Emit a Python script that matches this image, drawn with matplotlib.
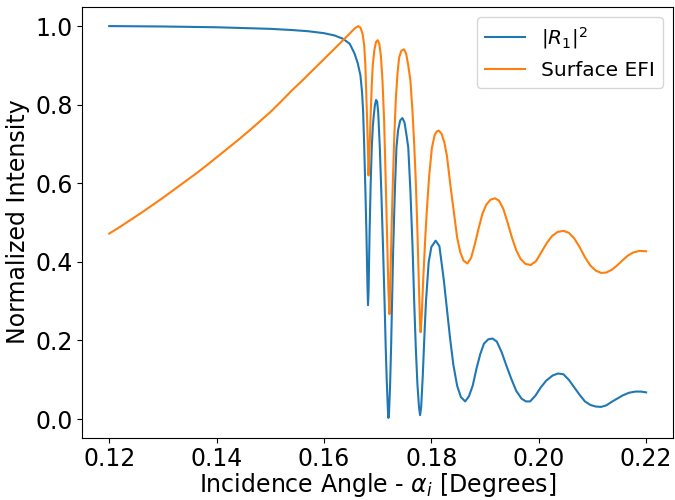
import numpy as np
import matplotlib
matplotlib.use("Agg")
import matplotlib.pyplot as plt

# values
angle_r = [0.1200, 0.1250, 0.1300, 0.1350, 0.1400, 0.1450, 0.1500, 0.1540, 0.1570,
           0.1600, 0.1620, 0.1635, 0.1648, 0.1657, 0.1663, 0.1668, 0.1671, 0.1673,
           0.1675, 0.1677, 0.1679, 0.1680, 0.1681, 0.1682, 0.1683, 0.1684, 0.1685,
           0.1687, 0.1689, 0.1691, 0.1693, 0.1695, 0.1697, 0.1699, 0.1701, 0.1704,
           0.1707, 0.1710, 0.1713, 0.1715, 0.1717, 0.1719, 0.1720, 0.1721, 0.1723,
           0.1725, 0.1727, 0.1729, 0.1732, 0.1735, 0.1738, 0.1742, 0.1746, 0.1750,
           0.1754, 0.1757, 0.1761, 0.1765, 0.1768, 0.1771, 0.1774, 0.1777, 0.1779,
           0.1781, 0.1784, 0.1787, 0.1790, 0.1795, 0.1800, 0.1808, 0.1815, 0.1823,
           0.1829, 0.1835, 0.1841, 0.1848, 0.1855, 0.1863, 0.1870, 0.1877, 0.1884,
           0.1891, 0.1898, 0.1906, 0.1914, 0.1922, 0.1931, 0.1940, 0.1949, 0.1958,
           0.1968, 0.1976, 0.1984, 0.1994, 0.2004, 0.2014, 0.2026, 0.2036, 0.2046,
           0.2056, 0.2066, 0.2076, 0.2086, 0.2096, 0.2106, 0.2116, 0.2126, 0.2136,
           0.2146, 0.2156, 0.2168, 0.2180, 0.2190, 0.2200]
refl = [1.000, 0.9995, 0.999, 0.998, 0.997, 0.995, 0.993, 0.990, 0.987,
        0.982, 0.976, 0.968, 0.955, 0.930, 0.905, 0.874, 0.830, 0.780,
        0.691, 0.590, 0.479, 0.410, 0.340, 0.290, 0.320, 0.400, 0.479,
        0.600, 0.691, 0.745, 0.776, 0.800, 0.812, 0.808, 0.780, 0.691,
        0.570, 0.437, 0.290, 0.182, 0.095, 0.025, 0.003, 0.010, 0.080,
        0.182, 0.310, 0.437, 0.580, 0.691, 0.735, 0.760, 0.766, 0.755,
        0.720, 0.691, 0.580, 0.437, 0.300, 0.182, 0.090, 0.030, 0.010,
        0.030, 0.110, 0.210, 0.300, 0.399, 0.438, 0.454, 0.440, 0.356,
        0.280, 0.204, 0.138, 0.085, 0.056, 0.045, 0.058, 0.085, 0.128,
        0.165, 0.192, 0.203, 0.205, 0.197, 0.170, 0.135, 0.102, 0.072,
        0.052, 0.045, 0.045, 0.060, 0.081, 0.098, 0.111, 0.116, 0.114,
        0.100, 0.081, 0.062, 0.045, 0.036, 0.032, 0.031, 0.035, 0.044,
        0.052, 0.060, 0.067, 0.070, 0.070, 0.068]

angle_e = [0.1200, 0.1220, 0.1240, 0.1260, 0.1280, 0.1300, 0.1320, 0.1340, 0.1360,
           0.1380, 0.1400, 0.1420, 0.1440, 0.1460, 0.1480, 0.1500, 0.1520, 0.1540,
           0.1560, 0.1580, 0.1600, 0.1620, 0.1640, 0.1650, 0.1658, 0.1664, 0.1668,
           0.1672, 0.1675, 0.1677, 0.1680, 0.1682, 0.1683, 0.1685, 0.1687, 0.1689,
           0.1691, 0.1694, 0.1697, 0.1700, 0.1703, 0.1706, 0.1709, 0.1712, 0.1715,
           0.1718, 0.1720, 0.1722, 0.1724, 0.1726, 0.1728, 0.1731, 0.1734, 0.1737,
           0.1740, 0.1744, 0.1749, 0.1753, 0.1757, 0.1761, 0.1765, 0.1768, 0.1771,
           0.1774, 0.1777, 0.1779, 0.1780, 0.1782, 0.1785, 0.1789, 0.1792, 0.1796,
           0.1801, 0.1806, 0.1810, 0.1814, 0.1819, 0.1824, 0.1829, 0.1835, 0.1842,
           0.1848, 0.1854, 0.1860, 0.1867, 0.1874, 0.1881, 0.1888, 0.1895, 0.1902,
           0.1910, 0.1918, 0.1926, 0.1934, 0.1942, 0.1950, 0.1958, 0.1966, 0.1975,
           0.1985, 0.1995, 0.2005, 0.2015, 0.2025, 0.2035, 0.2046, 0.2056, 0.2066,
           0.2076, 0.2086, 0.2096, 0.2106, 0.2116, 0.2126, 0.2136, 0.2146, 0.2156,
           0.2166, 0.2176, 0.2188, 0.2200]
efi = [0.472, 0.489, 0.507, 0.525, 0.544, 0.563, 0.583, 0.603, 0.623,
       0.644, 0.666, 0.688, 0.710, 0.733, 0.757, 0.781, 0.808, 0.836,
       0.862, 0.889, 0.916, 0.943, 0.970, 0.984, 0.995, 1.000, 0.996,
       0.980, 0.950, 0.903, 0.776, 0.680, 0.620, 0.690, 0.776, 0.850,
       0.903, 0.940, 0.960, 0.964, 0.955, 0.925, 0.861, 0.760, 0.606,
       0.440, 0.330, 0.267, 0.370, 0.490, 0.590, 0.720, 0.819, 0.880,
       0.920, 0.937, 0.941, 0.930, 0.900, 0.861, 0.780, 0.700, 0.606,
       0.480, 0.330, 0.240, 0.221, 0.260, 0.360, 0.470, 0.540, 0.620,
       0.690, 0.722, 0.732, 0.734, 0.726, 0.705, 0.670, 0.600, 0.526,
       0.462, 0.424, 0.403, 0.396, 0.410, 0.445, 0.485, 0.522, 0.545,
       0.558, 0.562, 0.556, 0.535, 0.500, 0.462, 0.430, 0.408, 0.395,
       0.392, 0.402, 0.425, 0.448, 0.466, 0.476, 0.479, 0.474, 0.460,
       0.438, 0.412, 0.391, 0.378, 0.372, 0.373, 0.380, 0.391, 0.404,
       0.416, 0.424, 0.428, 0.427]

fig = plt.figure(figsize=(6.75, 5), dpi=100)
plt.subplots_adjust(left=0.122, right=0.997, top=0.987, bottom=0.125)

plt.plot(angle_r, refl, label=r"$|R_1|^2$")
plt.plot(angle_e, efi, label="Surface EFI")
plt.xlabel(r"Incidence Angle - $\alpha_i$ [Degrees]", fontsize=17, labelpad=-0.5)
plt.ylabel("Normalized Intensity", fontsize=17)
plt.xticks([0.12, 0.14, 0.16, 0.18, 0.20, 0.22], fontsize=17)
plt.yticks([0.0, 0.2, 0.4, 0.6, 0.8, 1.0], fontsize=17)
plt.legend(loc="upper right", fontsize=14.5)
plt.savefig("out.png", dpi=100)
